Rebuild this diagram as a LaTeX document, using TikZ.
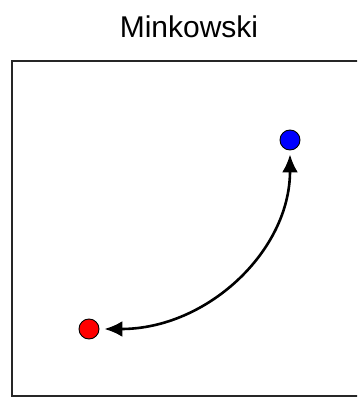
\documentclass[tikz,border=0pt]{standalone}
\usepackage{fontspec}
\setmainfont{Liberation Sans}
\usetikzlibrary{arrows.meta}

\begin{document}
\begin{tikzpicture}[
    x=1pt, y=1pt,
    dot/.style={circle, draw=black, line width=0.9pt, minimum size=20pt, inner sep=0pt},
    link/.style={line width=2.6pt, {Latex[length=18pt, width=16pt]}-{Latex[length=18pt, width=16pt]}, shorten <=4pt, shorten >=5pt}
]
    \useasboundingbox (0,0) rectangle (357,397);
    \clip (0,0) rectangle (357,397);

    % Title
    \node[font=\fontsize{30}{36}\selectfont] (title) at (189, 370) {Minkowski};

    % Frame
    \draw[line width=2pt, draw=black!85] (12, 1) rectangle (380, 336);

    % Points
    \node[dot, fill=blue] (blue) at (290, 257) {};
    \node[dot, fill=red] (red) at (89, 68) {};

    % Curved link
    \draw[link] (blue) .. controls +(0,-111) and +(118,0) .. (red);
\end{tikzpicture}
\end{document}
